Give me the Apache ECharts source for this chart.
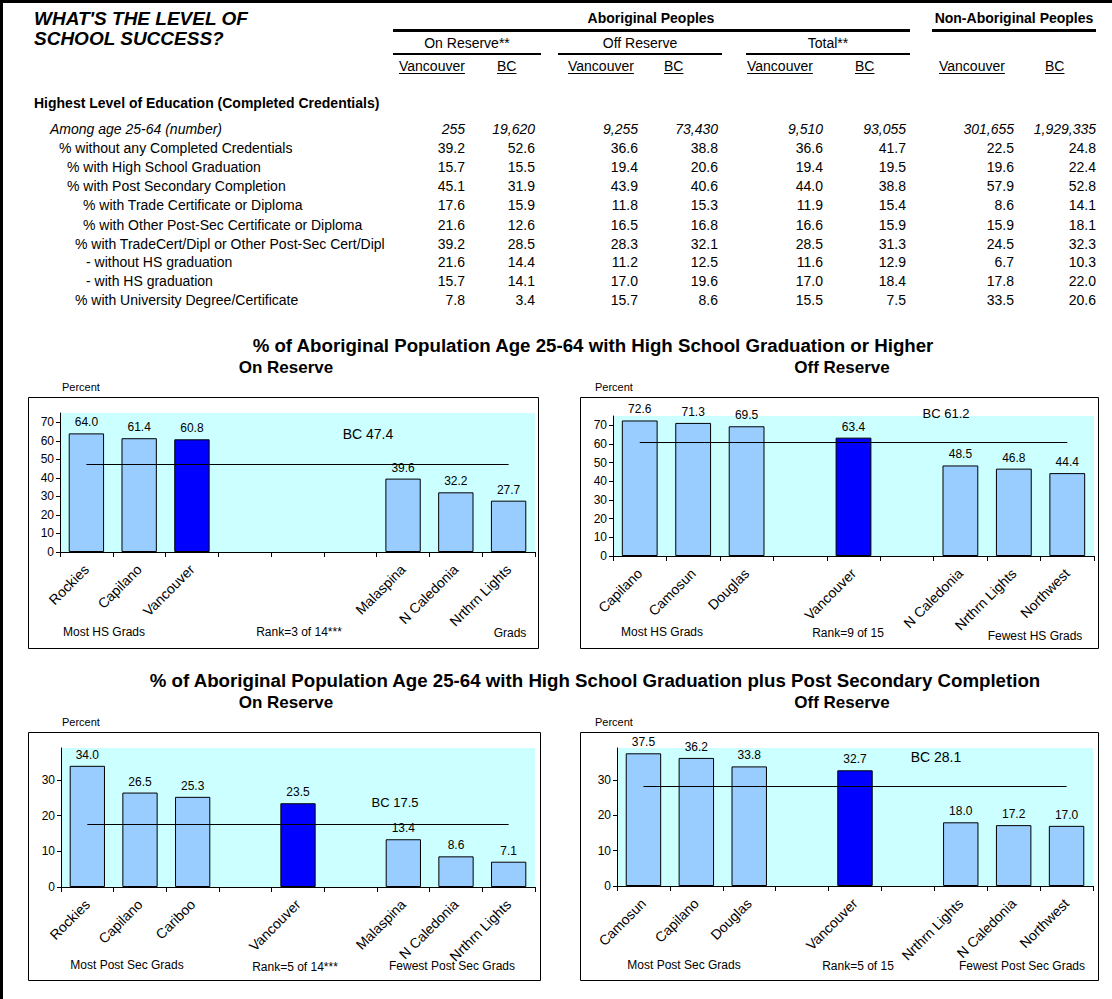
<!DOCTYPE html>
<html><head><meta charset="utf-8">
<script src="https://cdn.jsdelivr.net/npm/echarts@6/dist/echarts.min.js"></script>
<style>html,body{margin:0;padding:0;background:#fff}#c{width:1112px;height:999px}</style>
</head><body><div id="c"></div>
<script>
const FONT = '"Liberation Sans", Arial, sans-serif';

// ---------- table data ----------
const tableTitle = ["WHAT'S THE LEVEL OF", 'SCHOOL SUCCESS?'];
const groupHeaders = ['Aboriginal Peoples', 'Non-Aboriginal Peoples'];
const subHeaders = ['On Reserve**', 'Off Reserve', 'Total**'];
const colHeaders = ['Vancouver', 'BC', 'Vancouver', 'BC', 'Vancouver', 'BC', 'Vancouver', 'BC'];
const sectionHeading = 'Highest Level of Education (Completed Credentials)';
const rowLabels = [
  'Among age 25-64 (number)',
  '% without any Completed Credentials',
  '% with High School Graduation',
  '% with Post Secondary Completion',
  '% with Trade Certificate or Diploma',
  '% with Other Post-Sec Certificate or Diploma',
  '% with TradeCert/Dipl or Other Post-Sec Cert/Dipl',
  '- without HS graduation',
  '- with HS graduation',
  '% with University Degree/Certificate'
];
const countRow = [255, 19620, 9255, 73430, 9510, 93055, 301655, 1929335];
const pctRows = [
  [39.2, 52.6, 36.6, 38.8, 36.6, 41.7, 22.5, 24.8],
  [15.7, 15.5, 19.4, 20.6, 19.4, 19.5, 19.6, 22.4],
  [45.1, 31.9, 43.9, 40.6, 44.0, 38.8, 57.9, 52.8],
  [17.6, 15.9, 11.8, 15.3, 11.9, 15.4, 8.6, 14.1],
  [21.6, 12.6, 16.5, 16.8, 16.6, 15.9, 15.9, 18.1],
  [39.2, 28.5, 28.3, 32.1, 28.5, 31.3, 24.5, 32.3],
  [21.6, 14.4, 11.2, 12.5, 11.6, 12.9, 6.7, 10.3],
  [15.7, 14.1, 17.0, 19.6, 17.0, 18.4, 17.8, 22.0],
  [7.8, 3.4, 15.7, 8.6, 15.5, 7.5, 33.5, 20.6]
];

// ---------- chart data ----------
const chartTitle1 = '% of Aboriginal Population Age 25-64 with High School Graduation or Higher';
const chartTitle2 = '% of Aboriginal Population Age 25-64 with High School Graduation plus Post Secondary Completion';
const panelTitles = ['On Reserve', 'Off Reserve'];

const hsOnCats = ['Rockies', 'Capilano', 'Vancouver', '', '', '', 'Malaspina', 'N Caledonia', 'Nrthrn Lights'];
const hsOnVals = [64.0, 61.4, 60.8, null, null, null, 39.6, 32.2, 27.7];
const hsOnBC = 47.4;
const hsOnNotes = ['Most HS Grads', 'Rank=3 of 14***', 'Grads'];

const hsOffCats = ['Capilano', 'Camosun', 'Douglas', '', 'Vancouver', '', 'N Caledonia', 'Nrthrn Lights', 'Northwest'];
const hsOffVals = [72.6, 71.3, 69.5, null, 63.4, null, 48.5, 46.8, 44.4];
const hsOffBC = 61.2;
const hsOffNotes = ['Most HS Grads', 'Rank=9 of 15', 'Fewest HS Grads'];

const psOnCats = ['Rockies', 'Capilano', 'Cariboo', '', 'Vancouver', '', 'Malaspina', 'N Caledonia', 'Nrthrn Lights'];
const psOnVals = [34.0, 26.5, 25.3, null, 23.5, null, 13.4, 8.6, 7.1];
const psOnBC = 17.5;
const psOnNotes = ['Most Post Sec Grads', 'Rank=5 of 14***', 'Fewest Post Sec Grads'];

const psOffCats = ['Camosun', 'Capilano', 'Douglas', '', 'Vancouver', '', 'Nrthrn Lights', 'N Caledonia', 'Northwest'];
const psOffVals = [37.5, 36.2, 33.8, null, 32.7, null, 18.0, 17.2, 17.0];
const psOffBC = 28.1;
const psOffNotes = ['Most Post Sec Grads', 'Rank=5 of 15', 'Fewest Post Sec Grads'];

const hsTicks = [0, 10, 20, 30, 40, 50, 60, 70];
const psTicks = [0, 10, 20, 30];

// ---------- helpers ----------
const mctx = document.createElement('canvas').getContext('2d');
function textW(t, font) { mctx.font = font; return mctx.measureText(t).width; }
function txt(t, x, y, font, align, extra) {
  return Object.assign({
    type: 'text', x: x, y: y, silent: true,
    style: { text: t, font: font, fill: '#000', align: align || 'left', verticalAlign: 'middle' }
  }, extra || {});
}
function rect(x, y, w, h, fill) {
  return { type: 'rect', silent: true, shape: { x: x, y: y, width: w, height: h }, style: { fill: fill || '#000' } };
}
function box(x, y, w, h) {
  return { type: 'rect', silent: true, shape: { x: x + 0.5, y: y + 0.5, width: w, height: h }, style: { fill: 'none', stroke: '#000', lineWidth: 1 } };
}

const F14 = '14px ' + FONT;
const F14B = 'bold 14px ' + FONT;
const g = [];

// borders
g.push(rect(0, 0, 1112, 3));
g.push(rect(0, 0, 3, 999));

// table title
g.push(txt(tableTitle[0], 34, 18, 'italic bold 19px ' + FONT));
g.push(txt(tableTitle[1], 34, 38, 'italic bold 19px ' + FONT));

// group headers
g.push(txt(groupHeaders[0], 651, 18, F14B, 'center'));
g.push(rect(393, 29, 517, 3));
g.push(txt(groupHeaders[1], 1014, 18, F14B, 'center'));
g.push(rect(932, 29, 164, 3));

// sub headers
const subSpans = [[393, 541], [558, 722], [746, 910]];
subHeaders.forEach((s, i) => {
  const sp = subSpans[i];
  g.push(txt(s, (sp[0] + sp[1]) / 2, 43, F14, 'center'));
  g.push(rect(sp[0], 53, sp[1] - sp[0], 2));
});

// column headers (underlined)
const colLeft = [399, 497, 568, 664, 747, 855, 939, 1045];
colHeaders.forEach((h, i) => {
  g.push(txt(h, colLeft[i], 66, F14, 'left'));
  g.push(rect(colLeft[i], 73, textW(h, F14), 1));
});

// section heading
g.push(txt(sectionHeading, 34, 103, F14B, 'left'));

// rows
const rowY = [129, 148, 167, 186, 205, 225, 244, 262, 281, 300];
const rowX = [50, 59, 67, 67, 83, 83, 75, 86, 86, 75];
const colRight = [465, 535, 638, 718, 823, 906, 1014, 1096];
rowLabels.forEach((l, r) => {
  const f = r === 0 ? 'italic 14px ' + FONT : F14;
  g.push(txt(l, rowX[r], rowY[r], f, 'left'));
  const vals = r === 0 ? countRow.map(v => v.toLocaleString('en-US')) : pctRows[r - 1].map(v => v.toFixed(1));
  vals.forEach((v, c) => g.push(txt(v, colRight[c], rowY[r], f, 'right')));
});

// chart section titles
const FT = 'bold 18.7px ' + FONT;
const FP = 'bold 17px ' + FONT;
g.push(txt(chartTitle1, 593, 345, FT, 'center'));
g.push(txt(panelTitles[0], 286, 367, FP, 'center'));
g.push(txt(panelTitles[1], 842, 367, FP, 'center'));
g.push(txt(chartTitle2, 595, 680, FT, 'center'));
g.push(txt(panelTitles[0], 286, 702, FP, 'center'));
g.push(txt(panelTitles[1], 842, 702, FP, 'center'));

// panels
const F11 = '11px ' + FONT;
const F12 = '12px ' + FONT;
const panels = [
  { cats: hsOnCats, vals: hsOnVals, bc: hsOnBC, notes: hsOnNotes, max: 75, ticks: hsTicks,
    grid: { left: 60, top: 413, width: 475, height: 139 },
    box: [28, 397, 510, 251], percent: [62, 387], bcPos: [368, 434, 14],
    notePos: [[104, 632], [299, 632], [510, 633]] },
  { cats: hsOffCats, vals: hsOffVals, bc: hsOffBC, notes: hsOffNotes, max: 75, ticks: hsTicks,
    grid: { left: 613, top: 416, width: 481, height: 140 },
    box: [580, 397, 518, 251], percent: [595, 387], bcPos: [946, 413, 13],
    notePos: [[662, 632], [848, 633], [1035, 636]] },
  { cats: psOnCats, vals: psOnVals, bc: psOnBC, notes: psOnNotes, max: 39, ticks: psTicks,
    grid: { left: 61, top: 748, width: 474, height: 139 },
    box: [28, 732, 512, 248], percent: [62, 722], bcPos: [395, 802, 13],
    notePos: [[127, 965], [295, 967], [452, 966]] },
  { cats: psOffCats, vals: psOffVals, bc: psOffBC, notes: psOffNotes, max: 39, ticks: psTicks,
    grid: { left: 617, top: 748, width: 476, height: 138 },
    box: [580, 732, 518, 248], percent: [595, 722], bcPos: [936, 757, 14],
    notePos: [[684, 965], [858, 966], [1022, 966]] }
];

const grids = [], xAxes = [], yAxes = [], series = [];
panels.forEach((p, i) => {
  g.push(box(p.box[0], p.box[1], p.box[2], p.box[3]));
  g.push(txt('Percent', p.percent[0], p.percent[1], F11, 'left'));
  g.push(txt('BC ' + p.bc.toFixed(1), p.bcPos[0], p.bcPos[1], p.bcPos[2] + 'px ' + FONT, 'center'));
  p.notes.forEach((n, k) => g.push(txt(n, p.notePos[k][0], p.notePos[k][1], F12, 'center')));

  grids.push(Object.assign({ show: true, backgroundColor: '#CCFFFF', borderWidth: 0, containLabel: false }, p.grid));
  xAxes.push({
    type: 'category', gridIndex: i, data: p.cats, boundaryGap: true,
    axisLine: { show: true, lineStyle: { color: '#000', width: 1 } },
    axisTick: { show: true, interval: 0, length: 5, lineStyle: { color: '#000' } },
    axisLabel: { interval: 0, rotate: 45, fontSize: 14, fontFamily: FONT, color: '#000', margin: 15 },
    splitLine: { show: false }
  });
  yAxes.push({
    type: 'value', gridIndex: i, min: 0, max: p.max, interval: 10,
    axisLine: { show: true, lineStyle: { color: '#000', width: 1 } },
    axisTick: { show: true, length: 4, lineStyle: { color: '#000' }, customValues: p.ticks },
    axisLabel: { fontSize: 12, fontFamily: FONT, color: '#000', margin: 6, customValues: p.ticks },
    splitLine: { show: false }
  });
  series.push({
    type: 'bar', xAxisIndex: i, yAxisIndex: i, data: p.vals, barWidth: '67%',
    itemStyle: {
      borderColor: '#000', borderWidth: 1,
      color: (params) => params.name === 'Vancouver' ? '#0000FF' : '#99CCFF'
    },
    label: { show: true, position: 'top', distance: 5, fontSize: 12, fontFamily: FONT, color: '#000',
      formatter: (params) => params.value == null ? '' : Number(params.value).toFixed(1) },
    markLine: {
      silent: true, symbol: 'none', animation: false,
      lineStyle: { color: '#000', width: 1, type: 'solid' },
      label: { show: false },
      data: [[{ coord: [0, p.bc] }, { coord: [p.cats.length - 1, p.bc] }]]
    }
  });
});

const chart = echarts.init(document.getElementById('c'), null, { renderer: 'svg', width: 1112, height: 999 });
chart.setOption({
  animation: false,
  backgroundColor: '#fff',
  textStyle: { fontFamily: FONT },
  grid: grids, xAxis: xAxes, yAxis: yAxes, series: series,
  graphic: { elements: g }
});
</script></body></html>
